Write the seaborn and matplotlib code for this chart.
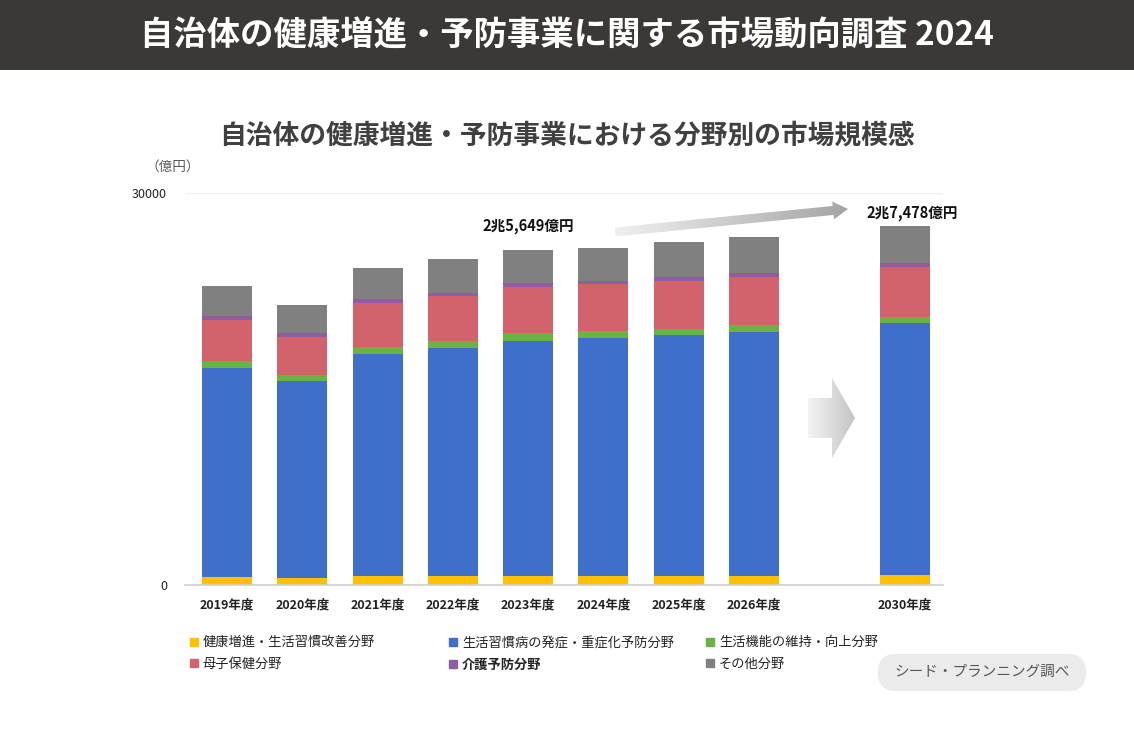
"""
Stacked bar chart: municipal health promotion / prevention market by field.
Writes out.png (1134x756).
"""
import numpy as np
import pandas as pd
import matplotlib
matplotlib.use("Agg")
import matplotlib.pyplot as plt
from matplotlib.patches import Polygon, FancyBboxPatch, Rectangle
from matplotlib.lines import Line2D
import seaborn as sns

# ── Data (億円) ───────────────────────────────────────────────────────────────
years      = ["2019年度", "2020年度", "2021年度", "2022年度", "2023年度",
              "2024年度", "2025年度", "2026年度", "2030年度"]
x_pos      = [0, 1, 2, 3, 4, 5, 6, 7, 9]
health     = [610, 535, 690, 690, 690, 690, 690, 690, 765]
lifestyle  = [16000, 15080, 16990, 17450, 18000, 18210, 18440, 18670, 19250]
function   = [535, 460, 535, 510, 590, 510, 490, 565, 510]
maternal   = [3140, 2910, 3340, 3500, 3520, 3600, 3670, 3670, 3830]
care       = [300, 310, 340, 230, 310, 280, 310, 310, 280]
other      = [2300, 2140, 2400, 2550, 2539, 2525, 2625, 2700, 2843]

series_names = ["健康増進・生活習慣改善分野", "生活習慣病の発症・重症化予防分野",
                "生活機能の維持・向上分野", "母子保健分野", "介護予防分野", "その他分野"]
colors = ["#FFC000", "#3F6FC8", "#6AB244", "#D2626B", "#8E5EA2", "#808080"]

total_2023 = "2兆5,649億円"
total_2030 = "2兆7,478億円"

# ── Build cumulative frame ───────────────────────────────────────────────────
df = pd.DataFrame({"pos": x_pos, "year": years})
layers = [health, lifestyle, function, maternal, care, other]
cum = np.cumsum(np.array(layers), axis=0)
for i, name in enumerate(series_names):
    df[name] = cum[i]

# ── Style ─────────────────────────────────────────────────────────────────────
sns.set_theme(style="white")
plt.rcParams["font.family"] = ["Noto Sans CJK JP", "DejaVu Sans"]

fig = plt.figure(figsize=(11.34, 7.56), dpi=100)
fig.patch.set_facecolor("white")
ax = fig.add_axes([185 / 1134, 1 - 585 / 756, (943 - 185) / 1134, (585 - 193) / 756])

# draw top layer first so lower layers paint over it
for name, c in reversed(list(zip(series_names, colors))):
    sns.barplot(data=df, x="pos", y=name, native_scale=True, width=0.664,
                color=c, saturation=1, errorbar=None, linewidth=0, ax=ax)

ax.set_xlim(-0.558, 9.51)
ax.set_ylim(0, 30000)
ax.set_xticks(x_pos, years, fontsize=9, fontweight="bold", color="#222222")
ax.set_yticks([0, 30000], ["0", "30000"], fontsize=9, color="#222222")
ax.tick_params(axis="x", length=0, pad=10)
ax.tick_params(axis="y", length=0, pad=13)
ax.set_xlabel("")
ax.set_ylabel("")
ax.yaxis.grid(True, color="#f0f0f0", linewidth=1)
ax.set_axisbelow(True)
sns.despine(ax=ax, left=True)
ax.spines["bottom"].set_color("#d0d0d0")

# totals
ax.text(4, 27470, total_2023, ha="center", va="center", fontsize=10.5,
        fontweight="bold", color="#111111")
ax.text(9.1, 28470, total_2030, ha="center", va="center", fontsize=10.5,
        fontweight="bold", color="#111111")

# ── Overlay for banner, arrows, badge ─────────────────────────────────────────
ov = fig.add_axes([0, 0, 1, 1], zorder=5)
ov.set_xlim(0, 1134)
ov.set_ylim(756, 0)
ov.axis("off")
ov.patch.set_alpha(0)

ov.add_patch(Rectangle((0, 0), 1134, 70, color="#3b3836", lw=0))
ov.text(567, 36, "自治体の健康増進・予防事業に関する市場動向調査 2024",
        ha="center", va="center", fontsize=24, fontweight="bold", color="white")
ov.text(567, 135, "自治体の健康増進・予防事業における分野別の市場規模感",
        ha="center", va="center", fontsize=19.3, fontweight="bold", color="#404040")
ov.text(173, 167, "（億円）", ha="center", va="center", fontsize=9.8, color="#595959")


def gradient_poly(pts, c0, c1):
    poly = Polygon(pts, closed=True, facecolor="none", edgecolor="none")
    ov.add_patch(poly)
    xs = [p[0] for p in pts]
    ys = [p[1] for p in pts]
    grad = np.linspace(0, 1, 256).reshape(1, -1)
    cmap = matplotlib.colors.LinearSegmentedColormap.from_list("g", [c0, c1])
    im = ov.imshow(grad, cmap=cmap, aspect="auto",
                   extent=(min(xs), max(xs), max(ys), min(ys)))
    im.set_clip_path(poly)


# big right arrow
gradient_poly([(808, 398), (832, 398), (832, 378), (855, 418),
               (832, 458), (832, 438), (808, 438)], "#f4f4f4", "#c4c4c4")

# diagonal growth arrow
tail = np.array([615.0, 232.0])
tip = np.array([848.0, 209.0])
u = (tip - tail) / np.linalg.norm(tip - tail)
n = np.array([-u[1], u[0]])
hb, hh, hl = 4.5, 9.0, 15.0
neck = tip - u * hl
pts = [tail + n * hb, neck + n * hb, neck + n * hh, tip,
       neck - n * hh, neck - n * hb, tail - n * hb]
gradient_poly([tuple(p) for p in pts], "#f0f0f0", "#a4a4a4")

ov.set_xlim(0, 1134)
ov.set_ylim(756, 0)

# legend (three columns)
col_x = [185 / 1134, 444 / 1134, 701 / 1134]
order = [(0, 3), (1, 4), (2, 5)]
for cx, (a, b) in zip(col_x, order):
    handles = [Line2D([], [], marker="s", linestyle="", markersize=5.5,
                      color=colors[k]) for k in (a, b)]
    leg = fig.legend(handles, [series_names[a], series_names[b]],
                     loc="upper left", bbox_to_anchor=(cx, 1 - 631 / 756),
                     frameon=False, fontsize=9.5, handlelength=0.6,
                     handletextpad=0.35, labelspacing=0.62, borderaxespad=0)
    for t in leg.get_texts():
        t.set_color("#222222")
        if t.get_text() == "介護予防分野":
            t.set_fontweight("bold")

# source badge
ov.add_patch(FancyBboxPatch((878, 654), 208, 37,
                            boxstyle="round,pad=0,rounding_size=18",
                            facecolor="#ebebeb", edgecolor="none"))
ov.text(982, 672, "シード・プランニング調べ", ha="center", va="center",
        fontsize=10.5, color="#555555")

fig.savefig("out.png", dpi=100)
